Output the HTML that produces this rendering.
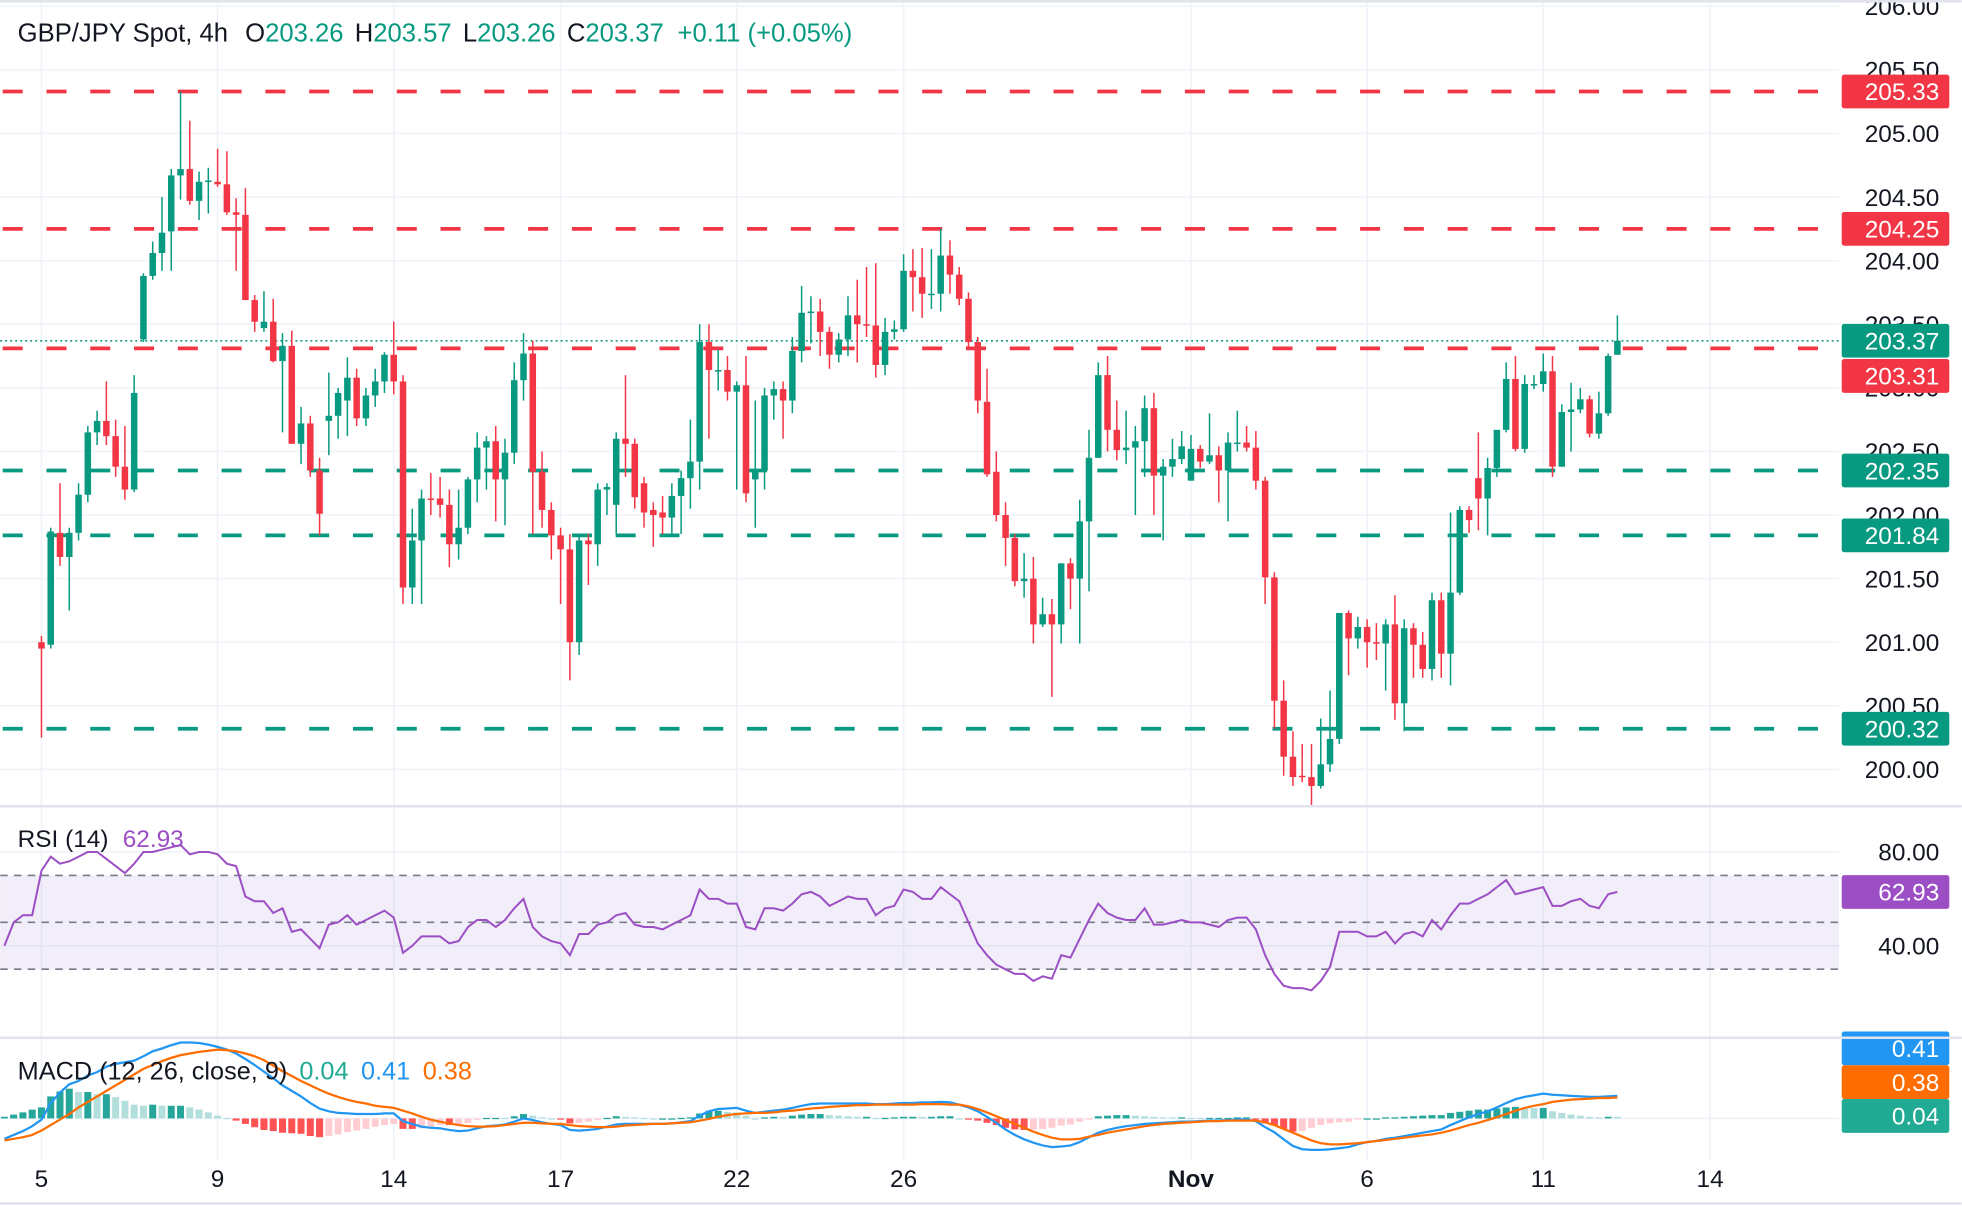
<!DOCTYPE html>
<html><head><meta charset="utf-8"><title>GBP/JPY 4h</title>
<style>
html,body{margin:0;padding:0;background:#fff;}
#wrap{width:1962px;height:1206px;overflow:hidden;}
svg{display:block;font-family:"Liberation Sans",Arial,sans-serif;}
</style></head>
<body>
<div id="wrap">
<svg id="chart" width="1962" height="1206" viewBox="0 0 1568 964">
  <rect x="0" y="0" width="1568" height="964" fill="#ffffff"/>
  <g id="grid"></g>
  <g id="levels"></g>
  <g id="candles"></g>
  <g id="rsi"></g>
  <g id="macd"></g>
  <g id="axes"></g>
  <line x1="0" y1="644.5" x2="1568" y2="644.5" stroke="#e0e3eb" stroke-width="2"/>
  <line x1="0" y1="829.5" x2="1568" y2="829.5" stroke="#e0e3eb" stroke-width="2"/>
  <line x1="0" y1="962" x2="1568" y2="962" stroke="#e0e3eb" stroke-width="2"/>
  <line x1="0" y1="1" x2="1568" y2="1" stroke="#e0e3eb" stroke-width="2"/>
  <text x="14" y="33" font-size="20.5" fill="#131722">GBP/JPY Spot, 4h <tspan dx="8">O</tspan><tspan fill="#089981">203.26</tspan><tspan dx="9">H</tspan><tspan fill="#089981">203.57</tspan><tspan dx="9">L</tspan><tspan fill="#089981">203.26</tspan><tspan dx="9">C</tspan><tspan fill="#089981">203.37</tspan><tspan dx="11" fill="#089981">+0.11 (+0.05%)</tspan></text>
  <text x="14" y="677" font-size="19.5" fill="#131722">RSI (14) <tspan dx="6" fill="#9c4fc4">62.93</tspan></text>
  <text x="14" y="863" font-size="20.2" fill="#131722">MACD (12, 26, close, 9) <tspan dx="4" fill="#22ab94">0.04</tspan><tspan dx="10" fill="#2196f3">0.41</tspan><tspan dx="10" fill="#ff6d00">0.38</tspan></text>
</svg>
</div>
<script>
const opens=[201.0,200.98,201.86,201.67,201.86,202.16,202.65,202.74,202.62,202.38,202.2,203.38,203.88,204.06,204.23,204.67,204.72,204.47,204.62,204.62,204.6,204.38,204.36,203.69,203.47,203.52,203.21,203.33,202.56,202.72,202.35,202.74,202.78,202.9,203.08,202.76,202.94,203.05,203.26,203.05,201.43,201.8,202.13,202.13,202.08,201.77,201.9,202.28,202.53,202.58,202.28,202.49,203.06,203.27,202.34,202.04,201.84,201.73,201.0,201.8,201.77,202.2,202.08,202.6,202.56,202.25,202.04,202.02,201.98,202.15,202.29,202.42,203.36,203.14,203.14,202.97,203.02,202.28,202.35,202.94,202.99,202.9,203.29,203.59,203.6,203.44,203.26,203.38,203.57,203.5,203.49,203.18,203.44,203.46,203.92,203.87,203.74,203.74,204.04,203.89,203.7,203.36,202.89,202.34,202.0,201.82,201.48,201.5,201.14,201.22,201.14,201.62,201.5,201.95,202.45,203.1,202.67,202.51,202.53,202.58,202.84,202.31,202.38,202.44,202.27,202.52,202.42,202.47,202.35,202.57,202.57,202.53,202.27,201.51,200.54,200.1,199.95,199.94,199.87,200.04,200.24,201.23,201.03,201.12,201.0,200.99,201.14,200.52,201.11,200.98,200.79,201.33,200.91,201.39,202.04,202.29,202.13,202.37,202.67,203.07,202.52,203.03,203.03,203.13,202.38,202.81,202.83,202.91,202.64,202.8,203.26];
const highs=[201.05,201.9,202.25,201.9,202.25,202.7,202.82,203.05,202.75,202.7,203.1,203.9,204.15,204.5,204.72,205.33,205.1,204.7,204.73,204.88,204.86,204.49,204.57,203.73,203.76,203.7,203.43,203.45,202.85,202.78,202.45,203.12,203.0,203.24,203.15,203.0,203.15,203.28,203.52,203.1,202.05,202.2,202.33,202.3,202.2,202.2,202.3,202.65,202.62,202.7,202.6,203.2,203.43,203.37,202.5,202.1,201.9,201.85,201.85,201.85,202.25,202.25,202.65,203.1,202.6,202.3,202.1,202.15,202.25,202.35,202.75,203.5,203.5,203.3,203.25,203.05,203.25,202.9,203.0,203.05,203.05,203.4,203.8,203.72,203.7,203.48,203.43,203.72,203.85,203.95,203.98,203.55,203.53,204.05,204.09,204.1,204.09,204.25,204.16,203.95,203.75,203.4,203.15,202.5,202.1,201.85,201.7,201.67,201.35,201.34,201.62,201.66,202.12,202.67,203.2,203.25,202.9,202.82,202.7,202.94,202.96,202.44,202.6,202.66,202.63,202.55,202.8,202.54,202.65,202.82,202.7,202.66,202.3,201.55,200.7,200.3,200.2,200.2,200.4,200.62,201.23,201.25,201.2,201.18,201.15,201.18,201.37,201.18,201.15,201.08,201.39,201.39,202.02,202.07,202.07,202.65,202.45,202.55,203.2,203.25,203.1,203.1,203.27,203.25,202.87,203.04,203.0,202.94,202.97,203.27,203.57];
const lows=[200.25,200.95,201.6,201.25,201.8,202.1,202.55,202.55,202.3,202.12,202.18,203.36,203.85,203.92,203.92,204.48,204.44,204.32,204.37,204.58,204.36,203.92,203.69,203.44,203.44,203.2,202.65,202.56,202.4,202.3,201.84,202.47,202.6,202.62,202.7,202.7,202.85,202.96,202.95,201.3,201.3,201.3,202.0,201.98,201.59,201.65,201.85,202.1,202.2,201.95,201.92,202.4,202.9,201.85,201.9,201.65,201.3,200.7,200.9,201.45,201.6,202.0,201.85,202.3,202.05,201.9,201.75,201.85,201.85,201.85,202.05,202.2,202.6,202.98,202.9,202.2,202.1,201.9,202.2,202.75,202.6,202.8,203.2,203.35,203.25,203.15,203.2,203.25,203.2,203.4,203.08,203.1,203.38,203.44,203.6,203.55,203.62,203.6,203.74,203.65,203.3,202.8,202.3,201.95,201.6,201.44,201.35,200.99,201.12,200.57,200.99,201.26,200.99,201.4,202.45,202.5,202.43,202.4,202.0,202.3,202.0,201.8,202.3,202.4,202.27,202.37,202.4,202.1,201.95,202.5,202.5,202.2,201.3,200.32,199.95,199.87,199.9,199.72,199.85,199.98,200.2,200.74,200.95,200.8,200.86,200.62,200.39,200.3,200.72,200.72,200.7,200.72,200.66,201.37,201.86,201.88,201.84,202.3,202.65,202.5,202.49,202.99,202.97,202.3,202.38,202.5,202.8,202.61,202.6,202.78,203.26];
const closes=[200.95,201.87,201.67,201.86,202.16,202.65,202.74,202.62,202.38,202.2,202.96,203.88,204.06,204.22,204.67,204.72,204.47,204.62,204.63,204.6,204.38,204.36,203.69,203.52,203.52,203.21,203.33,202.56,202.72,202.35,202.01,202.78,202.96,203.08,202.76,202.94,203.05,203.26,203.05,201.43,201.8,202.13,202.12,202.08,201.77,201.9,202.28,202.53,202.58,202.28,202.49,203.06,203.27,202.34,202.04,201.84,201.73,201.0,201.8,201.77,202.2,202.22,202.6,202.56,202.14,202.02,202.0,201.98,202.15,202.29,202.42,203.36,203.14,203.14,202.97,203.02,202.17,202.35,202.94,202.99,202.9,203.29,203.59,203.6,203.44,203.26,203.38,203.57,203.5,203.49,203.18,203.44,203.46,203.92,203.87,203.74,203.74,204.04,203.89,203.7,203.36,202.9,202.32,202.0,201.82,201.48,201.5,201.14,201.22,201.14,201.62,201.5,201.95,202.45,203.1,202.67,202.51,202.53,202.58,202.84,202.31,202.38,202.44,202.54,202.52,202.42,202.47,202.35,202.57,202.57,202.53,202.27,201.51,200.54,200.1,199.94,199.94,199.87,200.04,200.24,201.23,201.03,201.12,201.0,200.99,201.14,200.52,201.11,200.98,200.79,201.33,200.91,201.39,202.04,201.96,202.13,202.37,202.67,203.07,202.52,203.03,203.03,203.13,202.38,202.81,202.83,202.91,202.64,202.8,203.25,203.37];
// RSI and MACD start 4 bars before first visible candle
const rsiValues=[40,50,53,53,72,78,75,76,78,80,80,77,74,71,75,80,80,81,82,83,79,80,80,79,75,74,61,59,59,54,56,46,47,43,39,49,50,53,49,51,53,55,52,37,40,44,44,44,41,42,48,51,51,48,51,56,60,48,44,42,41,36,45,45,49,50,53,54,49,48,48,47,49,51,53,64,60,60,58,58,48,47,56,56,55,58,62,63,61,57,59,61,60,60,53,56,57,64,63,60,60,65,62,59,50,41,36,32,30,28,28,25,27,26,36,35,43,51,58,54,52,51,51,56,49,49,50,51,50,50,49,48,51,52,52,47,36,28,23,22,22,21,25,31,46,46,46,44,44,46,41,45,46,44,51,47,53,58,58,60,62,65,68,62,63,64,65,57,57,59,60,57,56,62,63];
const macdLine=[-0.37,-0.3,-0.23,-0.14,-0.02,0.28,0.47,0.62,0.68,0.78,0.84,0.94,0.99,1.02,1.05,1.13,1.22,1.27,1.33,1.38,1.38,1.37,1.34,1.3,1.25,1.18,1.08,0.97,0.85,0.73,0.6,0.5,0.4,0.28,0.18,0.13,0.1,0.09,0.08,0.08,0.08,0.09,0.09,-0.05,-0.1,-0.15,-0.17,-0.18,-0.21,-0.23,-0.22,-0.18,-0.14,-0.13,-0.11,-0.06,0,-0.03,-0.07,-0.1,-0.12,-0.21,-0.22,-0.21,-0.19,-0.15,-0.11,-0.1,-0.1,-0.1,-0.1,-0.1,-0.09,-0.07,-0.05,0.05,0.13,0.17,0.18,0.19,0.14,0.1,0.12,0.14,0.16,0.19,0.23,0.26,0.27,0.27,0.27,0.27,0.27,0.27,0.26,0.26,0.27,0.28,0.28,0.29,0.29,0.3,0.29,0.25,0.2,0.13,0.03,-0.08,-0.2,-0.3,-0.38,-0.44,-0.49,-0.52,-0.51,-0.49,-0.43,-0.34,-0.26,-0.21,-0.17,-0.14,-0.12,-0.1,-0.09,-0.08,-0.07,-0.06,-0.06,-0.05,-0.04,-0.04,-0.03,-0.02,-0.02,-0.05,-0.16,-0.25,-0.38,-0.5,-0.56,-0.57,-0.57,-0.56,-0.54,-0.52,-0.47,-0.43,-0.41,-0.37,-0.35,-0.32,-0.29,-0.26,-0.23,-0.2,-0.12,-0.05,0.02,0.08,0.13,0.2,0.28,0.35,0.39,0.42,0.45,0.43,0.42,0.41,0.4,0.39,0.39,0.4,0.41];
const signalLine=[-0.4,-0.37,-0.34,-0.3,-0.22,-0.12,-0.02,0.08,0.2,0.3,0.4,0.5,0.6,0.7,0.8,0.9,0.97,1.04,1.1,1.15,1.18,1.21,1.23,1.25,1.24,1.22,1.18,1.13,1.06,0.96,0.86,0.77,0.68,0.6,0.52,0.45,0.39,0.34,0.3,0.27,0.23,0.21,0.19,0.14,0.09,0.03,-0.02,-0.06,-0.09,-0.12,-0.14,-0.15,-0.15,-0.14,-0.12,-0.1,-0.08,-0.08,-0.09,-0.1,-0.1,-0.12,-0.14,-0.15,-0.16,-0.16,-0.15,-0.13,-0.12,-0.11,-0.1,-0.1,-0.09,-0.08,-0.07,-0.04,-0.01,0.03,0.06,0.08,0.09,0.1,0.1,0.11,0.13,0.14,0.16,0.18,0.19,0.21,0.22,0.23,0.24,0.24,0.25,0.25,0.25,0.25,0.25,0.26,0.26,0.26,0.25,0.25,0.22,0.17,0.11,0.04,-0.03,-0.1,-0.17,-0.24,-0.3,-0.35,-0.38,-0.38,-0.37,-0.33,-0.3,-0.26,-0.23,-0.2,-0.17,-0.14,-0.12,-0.1,-0.09,-0.08,-0.07,-0.06,-0.05,-0.05,-0.04,-0.04,-0.04,-0.04,-0.07,-0.12,-0.19,-0.26,-0.33,-0.4,-0.45,-0.47,-0.47,-0.46,-0.45,-0.43,-0.41,-0.39,-0.37,-0.35,-0.33,-0.31,-0.29,-0.26,-0.22,-0.17,-0.12,-0.08,-0.03,0.02,0.08,0.14,0.19,0.23,0.26,0.3,0.32,0.34,0.35,0.36,0.37,0.37,0.38];
const priceTicks=[206.0,205.5,205.0,204.5,204.0,203.5,203.0,202.5,202.0,201.5,201.0,200.5,200.0];
const priceTickLabels=["206.00","205.50","205.00","204.50","204.00","203.50","203.00","202.50","202.00","201.50","201.00","200.50","200.00"];
const resistanceLevels=[205.33,204.25,203.31];
const supportLevels=[202.35,201.84,200.32];
const dateIdx=[0,19,38,56,75,93,124,143,162,180];
const dateLabels=["5","9","14","17","22","26","Nov","6","11","14"];
const rsiTicks=[80,40];
const rsiBands=[70,50,30];
const lastClose=203.37, lastRsi=62.93, lastMacd=0.41, lastSignal=0.38, lastHist=0.04;
const macdOffset=4;

const NS="http://www.w3.org/2000/svg";
const X0=33, DX=7.41, PLOT_R=1470, FS=19.5;
const xAt=i=>X0+DX*i;
const yP=p=>5+(206-p)*101.67;
const yR=v=>681+(80-v)*1.875;
const yM=v=>894-v*44;
function mk(tag,attrs,parent){const e=document.createElementNS(NS,tag);for(const k in attrs)e.setAttribute(k,attrs[k]);parent.appendChild(e);return e;}
const G=id=>document.getElementById(id);
const grid=G('grid'),levels=G('levels'),cg=G('candles'),rg=G('rsi'),mg=G('macd'),ag=G('axes');

priceTicks.forEach(p=>{const l=mk('line',{x1:0,x2:PLOT_R,y1:yP(p),y2:yP(p),stroke:'#f0f3fa','stroke-width':1.3},grid);

});
rsiTicks.forEach(v=>{const l=mk('line',{x1:0,x2:PLOT_R,y1:yR(v),y2:yR(v),stroke:'#f0f3fa','stroke-width':1.3},grid);

});
{const l=mk('line',{x1:0,x2:PLOT_R,y1:yM(0),y2:yM(0),stroke:'#f0f3fa','stroke-width':1.3},grid);

}
dateIdx.forEach(i=>{const l=mk('line',{x1:xAt(i),x2:xAt(i),y1:0,y2:928,stroke:'#f0f3fa','stroke-width':1.3},grid);

});

resistanceLevels.forEach(p=>{const l=mk('line',{x1:2,x2:PLOT_R,y1:yP(p),y2:yP(p),stroke:'#f23645','stroke-width':3,'stroke-dasharray':'16 19'},levels);

});
supportLevels.forEach(p=>{const l=mk('line',{x1:2,x2:PLOT_R,y1:yP(p),y2:yP(p),stroke:'#089981','stroke-width':3,'stroke-dasharray':'16 19'},levels);

});
{const l=mk('line',{x1:0,x2:PLOT_R,y1:yP(lastClose),y2:yP(lastClose),stroke:'#089981','stroke-width':1.3,'stroke-dasharray':'1.5 2.5'},levels);

}

for(let i=0;i<closes.length;i++){
  const o=opens[i],c=closes[i],h=highs[i],lo=lows[i];
  const col=c>=o?'#089981':'#f23645';const x=xAt(i);
  const w=mk('line',{x1:x,x2:x,y1:yP(h),y2:yP(lo),stroke:col,'stroke-width':1.2},cg);
  
  
  const top=yP(Math.max(o,c)),bot=yP(Math.min(o,c));
  const b=mk('rect',{x:x-2.6,y:top,width:5.2,height:Math.max(1.2,bot-top),fill:col},cg);
  
  
}

{const f=mk('rect',{x:0,y:yR(rsiBands[0]),width:PLOT_R,height:yR(rsiBands[2])-yR(rsiBands[0]),fill:'#7e57c2','fill-opacity':0.1},rg);

}
rsiBands.forEach(v=>{const l=mk('line',{x1:0,x2:PLOT_R,y1:yR(v),y2:yR(v),stroke:'#787b86','stroke-width':1.3,'stroke-dasharray':'6 5'},rg);

});
{const pts=rsiValues.map((v,k)=>xAt(k-macdOffset).toFixed(1)+','+yR(v).toFixed(1)).join(' ');
const pl=mk('polyline',{points:pts,fill:'none',stroke:'#9c4fc4','stroke-width':1.6},rg);

}

const mclip=mk('clipPath',{id:'mclip'},mg);
mk('rect',{x:0,y:831,width:PLOT_R,height:97},mclip);
const mInner=mk('g',{'clip-path':'url(#mclip)'},mg);


for(let k=0;k<macdLine.length;k++){
  const hv=macdLine[k]-signalLine[k];const prev=k>0?macdLine[k-1]-signalLine[k-1]:hv;
  let col;if(hv>=0)col=hv>=prev?'#26a69a':'#b2dfdb';else col=hv<=prev?'#ff5252':'#ffcdd2';
  const y0=yM(0),y1=yM(hv);
  const r=mk('rect',{x:xAt(k-macdOffset)-2.8,y:Math.min(y0,y1),width:5.6,height:Math.max(1,Math.abs(y1-y0)),fill:col},mInner);
  
  
}
{const pts=macdLine.map((v,k)=>xAt(k-macdOffset).toFixed(1)+','+yM(v).toFixed(1)).join(' ');
const pl=mk('polyline',{points:pts,fill:'none',stroke:'#2196f3','stroke-width':1.8},mInner);

}
{const pts=signalLine.map((v,k)=>xAt(k-macdOffset).toFixed(1)+','+yM(v).toFixed(1)).join(' ');
const pl=mk('polyline',{points:pts,fill:'none',stroke:'#ff6d00','stroke-width':1.8},mInner);

}

priceTicks.forEach((p,k)=>{const t=mk('text',{x:1550,y:yP(p)+7,'font-size':FS,'text-anchor':'end',fill:'#131722'},ag);t.textContent=priceTickLabels[k];

});
rsiTicks.forEach(v=>{const t=mk('text',{x:1550,y:yR(v)+7,'font-size':FS,'text-anchor':'end',fill:'#131722'},ag);t.textContent=v.toFixed(2);

});
dateIdx.forEach((i,k)=>{const t=mk('text',{x:xAt(i),y:949,'font-size':FS,'text-anchor':'middle',fill:'#131722','font-weight':dateLabels[k]==='Nov'?'bold':'normal'},ag);t.textContent=dateLabels[k];

});
function badge(y,txt,col,name){
  const r=mk('rect',{x:1472,y:y-13.5,width:86,height:27,rx:2,fill:col},ag);
  
  
  const t=mk('text',{x:1550,y:y+7,'font-size':FS,'text-anchor':'end',fill:'#ffffff'},ag);t.textContent=txt;
  
  
}
resistanceLevels.forEach(p=>badge(p===203.31?yP(p)+22:yP(p),p.toFixed(2),'#f23645','resistance-price-label'));
supportLevels.forEach(p=>badge(yP(p),p.toFixed(2),'#089981','support-price-label'));
badge(yP(lastClose),lastClose.toFixed(2),'#089981','last-price-label');
badge(yR(lastRsi),lastRsi.toFixed(2),'#9c4fc4','rsi-value-label');
badge(838,lastMacd.toFixed(2),'#2196f3','macd-value-label');
badge(865,lastSignal.toFixed(2),'#ff6d00','signal-value-label');
badge(892,lastHist.toFixed(2),'#22ab94','histogram-value-label');
</script>
</body></html>
